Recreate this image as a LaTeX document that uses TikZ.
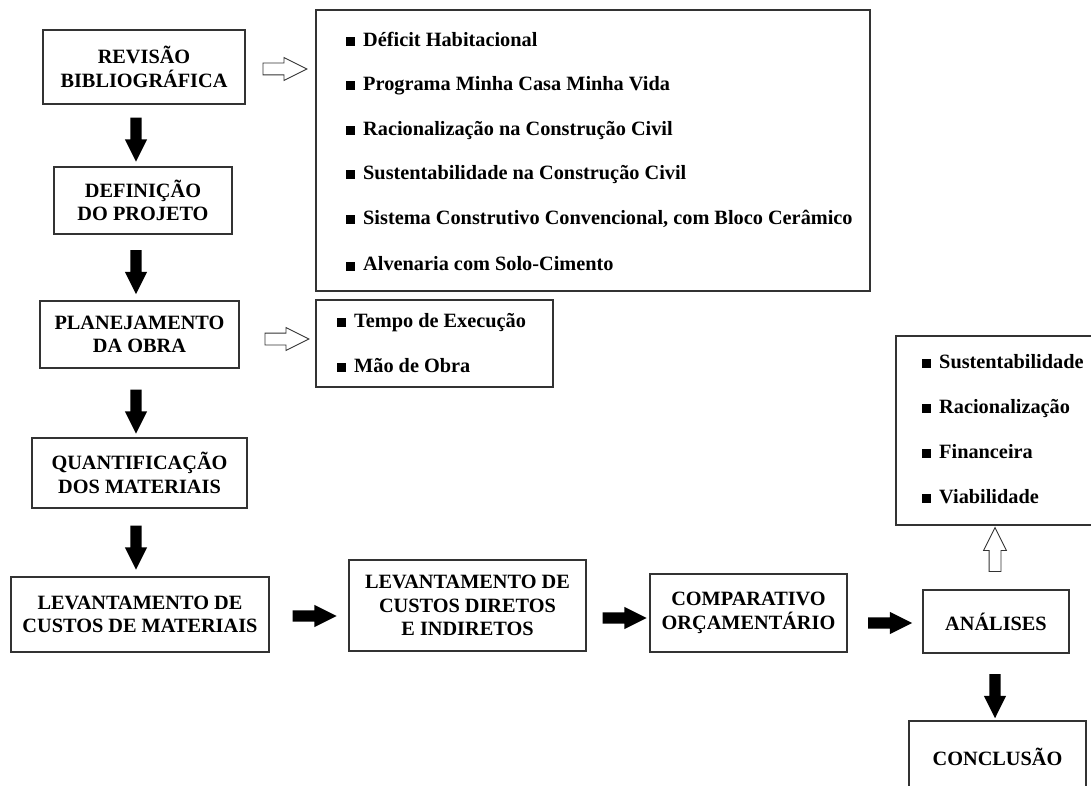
\documentclass[tikz,border=0pt]{standalone}
\usepackage{fontspec}
\setmainfont{Liberation Serif}
\usetikzlibrary{shapes.arrows}

\newcommand{\marca}{\rule{8.5pt}{9pt}\hspace{8.5pt}}

\begin{document}
\begin{tikzpicture}[x=1pt,y=-1pt,
    etapa/.style={draw=black!80, line width=1.3pt, align=center, inner sep=0pt,
        font=\bfseries\fontsize{20.3}{23.5}\selectfont},
    lista/.style={draw=black!80, line width=1.3pt, inner sep=0pt},
    item/.style={anchor=base west, inner sep=0pt, font=\bfseries\fontsize{20.3}{23.5}\selectfont},
    seta/.style={single arrow, minimum height=44pt, inner xsep=0pt, inner ysep=5.5pt,
        single arrow head extend=5.5pt, single arrow tip angle=53},
    setacheia/.style={seta, fill=black},
    setavazia/.style={seta, draw=black!80, line width=0.9pt, fill=white}]

\useasboundingbox (0,0) rectangle (1091,786);

% etapas do trabalho
\node[etapa, minimum width=202pt, minimum height=74pt] (revisao) at (144,67) {REVISÃO\\BIBLIOGRÁFICA};
\node[etapa, minimum width=178pt, minimum height=67pt] (definicao) at (143,200.5) {DEFINIÇÃO\\DO PROJETO};
\node[etapa, minimum width=199pt, minimum height=67pt] (planejamento) at (139.5,334.5) {PLANEJAMENTO\\DA OBRA};
\node[etapa, minimum width=215pt, minimum height=70pt] (quantificacao) at (139.5,473) {QUANTIFICAÇÃO\\DOS MATERIAIS};
\node[etapa, minimum width=258pt, minimum height=75pt] (custosmat) at (140,614.5) {LEVANTAMENTO DE\\CUSTOS DE MATERIAIS};
\node[etapa, minimum width=237pt, minimum height=91pt] (custosdir) at (467.5,605.5) {LEVANTAMENTO DE\\CUSTOS DIRETOS\\E INDIRETOS};
\node[etapa, minimum width=197pt, minimum height=78pt] (comparativo) at (748.5,613) {COMPARATIVO\\ORÇAMENTÁRIO};
\node[etapa, minimum width=146pt, minimum height=63pt] (analises) at (996,621.5) {ANÁLISES};
\node[etapa, minimum width=177pt, minimum height=72pt] (conclusao) at (997.5,757) {CONCLUSÃO};

% quadros com os topicos
\node[lista, minimum width=554pt, minimum height=281pt] (temas) at (593,150.5) {};
\node[lista, minimum width=237pt, minimum height=87pt] (execucao) at (434.5,343.5) {};
\node[lista, minimum width=204pt, minimum height=189pt] (criterios) at (998,430.5) {};

\node[item] (tema1) at (346,46.5) {\marca Déficit Habitacional};
\node[item] (tema2) at (346,90.5) {\marca Programa Minha Casa Minha Vida};
\node[item] (tema3) at (346,135.5) {\marca Racionalização na Construção Civil};
\node[item] (tema4) at (346,179.5) {\marca Sustentabilidade na Construção Civil};
\node[item] (tema5) at (346,224.5) {\marca Sistema Construtivo Convencional, com Bloco Cerâmico};
\node[item] (tema6) at (346,270.5) {\marca Alvenaria com Solo-Cimento};

\node[item] (exec1) at (337,327) {\marca Tempo de Execução};
\node[item] (exec2) at (337,372) {\marca Mão de Obra};

\node[item] (crit1) at (922,368) {\marca Sustentabilidade};
\node[item] (crit2) at (922,413) {\marca Racionalização};
\node[item] (crit3) at (922,458) {\marca Financeira};
\node[item] (crit4) at (922,503) {\marca Viabilidade};

% setas
\node[setacheia, rotate=-90] (s1) at (136,134) {};
\node[setacheia, rotate=-90] (s2) at (136,266.5) {};
\node[setacheia, rotate=-90] (s3) at (136,406) {};
\node[setacheia, rotate=-90] (s4) at (136,542) {};
\node[setacheia] (s5) at (309,616) {};
\node[setacheia] (s6) at (619,618) {};
\node[setacheia] (s7) at (884.5,623) {};
\node[setacheia, rotate=-90] (s8) at (995,690.5) {};

\node[setavazia] (v1) at (279,69) {};
\node[setavazia] (v2) at (281,339) {};
\node[setavazia, rotate=90] (v3) at (995,555.5) {};

\end{tikzpicture}
\end{document}
